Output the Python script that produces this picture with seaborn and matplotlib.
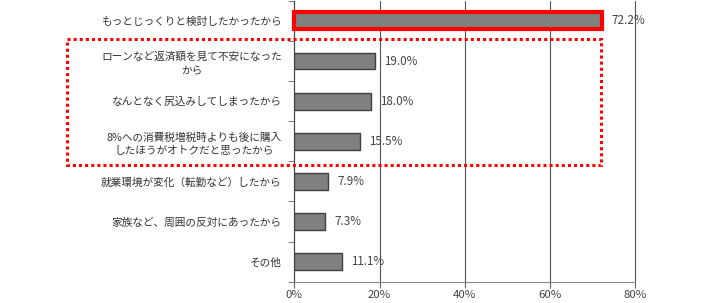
import matplotlib
matplotlib.use("Agg")
import matplotlib.pyplot as plt
import seaborn as sns
import pandas as pd
import numpy as np
from matplotlib.patches import Rectangle

categories = [
    "もっとじっくりと検討したかったから",
    "ローンなど返済額を見て不安になった\nから",
    "なんとなく尻込みしてしまったから",
    "8%への消費税増税時よりも後に購入\nしたほうがオトクだと思ったから",
    "就業環境が変化（転勤など）したから",
    "家族など、周囲の反対にあったから",
    "その他",
]
values = [72.2, 19.0, 18.0, 15.5, 7.9, 7.3, 11.1]
value_labels = ["72.2%", "19.0%", "18.0%", "15.5%", "7.9%", "7.3%", "11.1%"]
xticks = [0, 20, 40, 60, 80]
xtick_labels = ["0%", "20%", "40%", "60%", "80%"]

sns.set_style("white")
plt.rcParams['font.family'] = ['Noto Sans CJK JP', 'DejaVu Sans']

fig = plt.figure(figsize=(7.1, 3.03), dpi=100)
ax = fig.add_axes([0.4145, 0.0703, 0.4803, 0.927])

df = pd.DataFrame({"cat": categories, "val": values})
sns.barplot(data=df, x="val", y="cat", orient="h", color="#808080",
            saturation=1, width=0.42, edgecolor="#404040", linewidth=1, ax=ax)

ax.set_xlim(0, 80)
ax.set_ylim(6.5, -0.5)
ax.set_xlabel("")
ax.set_ylabel("")
ax.set_xticks(xticks)
ax.set_xticklabels(xtick_labels, fontsize=8.2, color="#444444")
for lab in ax.get_yticklabels():
    lab.set_multialignment("center")
    lab.set_fontsize(7.7)
    lab.set_linespacing(1.45)
    lab.set_color("#333333")

ax.set_yticks(np.arange(-0.5, 7, 1), minor=True)
ax.tick_params(axis='y', which='major', length=0, pad=9)
ax.tick_params(axis='y', which='minor', left=True, length=4, color="#666666", direction='out')
ax.tick_params(axis='x', which='major', bottom=True, length=4, color="#666666", direction='out', pad=2)

ax.xaxis.grid(True, color="#555555", linewidth=0.8)
for gl in ax.get_xgridlines():
    gl.set_clip_on(False)
ax.set_axisbelow(True)
for s in ["top", "right"]:
    ax.spines[s].set_visible(False)
ax.spines["left"].set_color("#444444")
ax.spines["left"].set_linewidth(0.8)
ax.spines["bottom"].set_color("#888888")
ax.spines["bottom"].set_linewidth(0.8)

for i, (v, lab) in enumerate(zip(values, value_labels)):
    ax.annotate(lab, xy=(v, i), xytext=(6.5, 0), textcoords='offset points',
                va='center', ha='left', fontsize=8.4, color="#444444")

# highlight boxes
ax.add_patch(Rectangle((0, -0.21), values[0], 0.42, fill=False,
                       edgecolor="#ff0000", linewidth=3, zorder=5, clip_on=False))
ax.add_patch(Rectangle((-53.4, 0.452), 72.0 + 53.4, 3.60 - 0.452, fill=False,
                       edgecolor="#ff0000", linewidth=2.2, linestyle=(0, (1, 1)),
                       zorder=6, clip_on=False))

fig.savefig("out.png", dpi=100)
